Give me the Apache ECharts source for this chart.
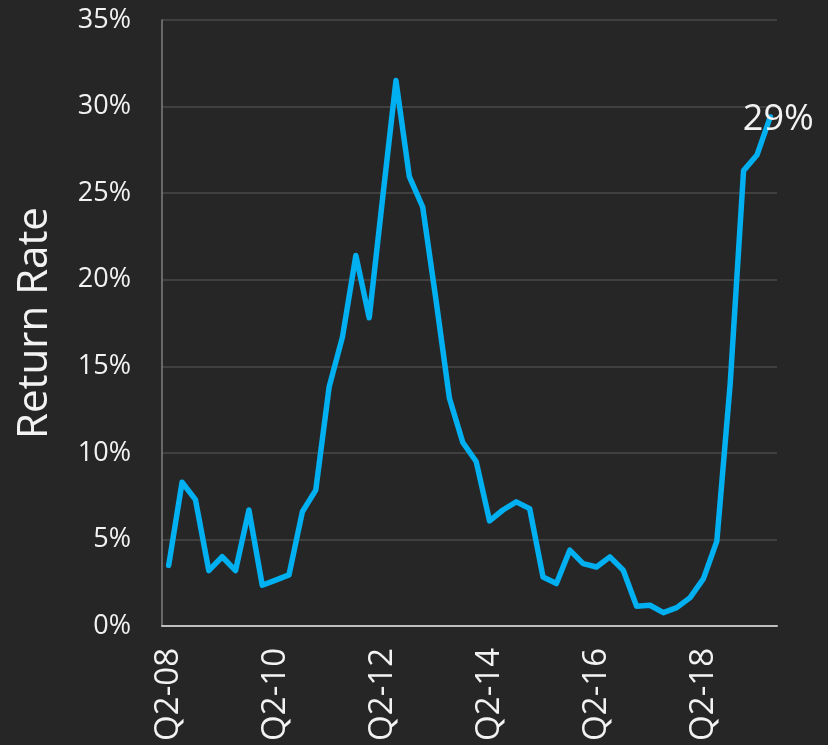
<!DOCTYPE html>
<html>
<head>
<meta charset="utf-8">
<script src="https://cdn.jsdelivr.net/npm/echarts@6/dist/echarts.min.js"></script>
<style>
  html, body { margin: 0; padding: 0; background: #262626; }
  #chart { width: 828px; height: 745px; }
</style>
</head>
<body>
<div id="chart"></div>
<script>
// Quarterly periods, Q2 2008 through Q3 2019
const quarters = [
  'Q2-08','Q3-08','Q4-08',
  'Q1-09','Q2-09','Q3-09','Q4-09',
  'Q1-10','Q2-10','Q3-10','Q4-10',
  'Q1-11','Q2-11','Q3-11','Q4-11',
  'Q1-12','Q2-12','Q3-12','Q4-12',
  'Q1-13','Q2-13','Q3-13','Q4-13',
  'Q1-14','Q2-14','Q3-14','Q4-14',
  'Q1-15','Q2-15','Q3-15','Q4-15',
  'Q1-16','Q2-16','Q3-16','Q4-16',
  'Q1-17','Q2-17','Q3-17','Q4-17',
  'Q1-18','Q2-18','Q3-18','Q4-18',
  'Q1-19','Q2-19','Q3-19'
];

// Return rate per quarter, in percent
const returnRate = [
  3.5, 8.3, 7.3,
  3.2, 4.0, 3.2, 6.7,
  2.35, 2.65, 2.95, 6.6,
  7.85, 13.8, 16.7, 21.4,
  17.8, 24.7, 31.5, 25.95,
  24.2, 18.8, 13.15, 10.6,
  9.5, 6.07, 6.7, 7.17,
  6.78, 2.83, 2.45, 4.38,
  3.6, 3.41, 3.99, 3.22,
  1.14, 1.2, 0.77, 1.06,
  1.64, 2.74, 4.9, 14.0,
  26.3, 27.2, 29.4
];

// Value-axis ticks, in percent
const yTicks = { min: 0, max: 35, step: 5 };

const FONT = '"Open Sans", "Noto Sans", sans-serif';
const TEXT = '#f2f2f2';

const chart = echarts.init(document.getElementById('chart'), null, { renderer: 'canvas' });
chart.setOption({
  backgroundColor: '#262626',
  animation: false,
  grid: { left: 162, right: 51, top: 20, bottom: 119, containLabel: false },
  xAxis: {
    type: 'category',
    data: quarters,
    boundaryGap: true,
    axisLine: { lineStyle: { color: '#bfbfbf', width: 2 } },
    axisTick: { show: false },
    axisLabel: {
      interval: 7,
      rotate: 90,
      margin: 22,
      color: TEXT,
      fontFamily: FONT,
      fontSize: 33
    },
    splitLine: { show: false }
  },
  yAxis: {
    type: 'value',
    min: yTicks.min,
    max: yTicks.max,
    interval: yTicks.step,
    name: 'Return Rate',
    nameLocation: 'middle',
    nameGap: 106,
    nameRotate: 90,
    nameTextStyle: { color: TEXT, fontFamily: FONT, fontSize: 42 },
    axisLine: { show: true, lineStyle: { color: '#7f7f7f', width: 1.5 } },
    axisTick: { show: false },
    axisLabel: {
      margin: 31,
      color: TEXT,
      fontFamily: FONT,
      fontSize: 27,
      formatter: '{value}%'
    },
    splitLine: { lineStyle: { color: '#404040', width: 2 } }
  },
  series: [{
    type: 'line',
    data: returnRate,
    smooth: false,
    showSymbol: false,
    symbol: 'none',
    lineStyle: { color: '#00b0f0', width: 5.5, cap: 'round', join: 'round' },
    itemStyle: { color: '#00b0f0' },
    endLabel: {
      show: true,
      distance: 0,
      align: 'center',
      verticalAlign: 'middle',
      offset: [8, 3],
      formatter: p => Math.round(p.value) + '%',
      color: TEXT,
      fontFamily: FONT,
      fontSize: 36
    },
    z: 3
  }]
});
</script>
</body>
</html>
